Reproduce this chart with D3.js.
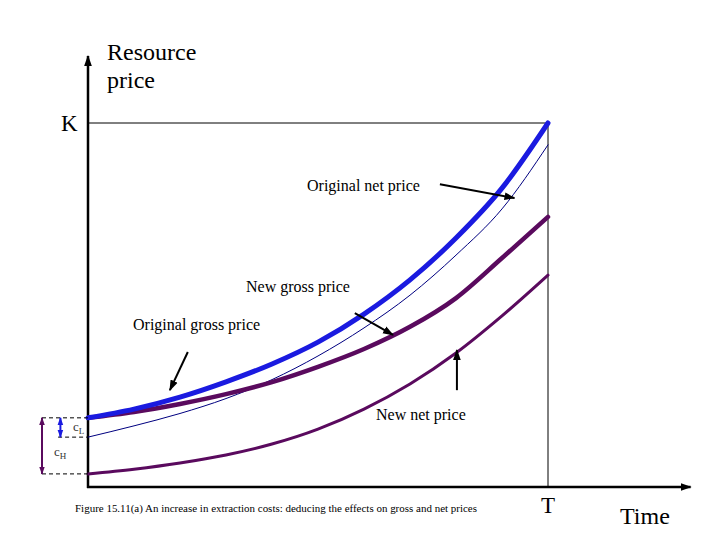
<!DOCTYPE html>
<html>
<head>
<meta charset="utf-8">
<script src="https://cdn.jsdelivr.net/npm/d3@7"></script>
<style>
  body { margin: 0; background: #fff; }
  text { font-family: "Liberation Serif", "Times New Roman", serif; }
</style>
</head>
<body>
<svg width="720" height="540"></svg>
<script>
(function () {

    // time runs from 0 to T (=1), price from 0 to K (=100)
    var times = [0, 0.1, 0.2, 0.3, 0.4, 0.5, 0.6, 0.7, 0.8, 0.9, 1];
    var originalGross = [19.0, 21.4, 24.7, 28.9, 33.8, 39.8, 47.5, 56.9, 68.4, 82.1, 100];
    var originalNet = [13.7, 16.8, 20.2, 24.3, 29.5, 36.0, 43.7, 52.7, 63.7, 76.4, 94.0];
    var newGross = [19.0, 20.6, 22.8, 25.5, 28.8, 33.0, 37.9, 44.0, 51.9, 62.9, 74.2];
    var newNet = [3.6, 4.9, 6.6, 8.8, 11.8, 15.9, 21.4, 28.3, 36.8, 47.0, 58.2];

    var K = 100, T = 1;

    var svg = d3.select("svg");

    var x = d3.scaleLinear().domain([0, T]).range([88, 548]);
    var y = d3.scaleLinear().domain([0, K]).range([487, 123]);

    var defs = svg.append("defs");
    function marker(id, color, size) {
        defs.append("marker")
            .attr("id", id)
            .attr("viewBox", "0 0 10 10")
            .attr("refX", 9).attr("refY", 5)
            .attr("markerWidth", size).attr("markerHeight", size)
            .attr("markerUnits", "userSpaceOnUse")
            .attr("orient", "auto-start-reverse")
            .append("path")
            .attr("d", "M0,1.5 L10,5 L0,8.5 z")
            .attr("fill", color);
    }
    marker("arr", "#000", 11);
    marker("arrBlue", "#1a1ae0", 8);
    marker("arrPurple", "#5a0a5e", 8);

    // K and T guide lines
    svg.append("line")
        .attr("x1", x(0)).attr("x2", x(T))
        .attr("y1", y(K)).attr("y2", y(K))
        .attr("stroke", "#000").attr("stroke-width", 1);
    svg.append("line")
        .attr("x1", x(T)).attr("x2", x(T))
        .attr("y1", y(K)).attr("y2", y(0))
        .attr("stroke", "#000").attr("stroke-width", 1);

    // axes
    svg.append("line")
        .attr("x1", x(0)).attr("x2", x(0))
        .attr("y1", y(0) + 1).attr("y2", y(118.4))
        .attr("stroke", "#000").attr("stroke-width", 2.5)
        .attr("marker-end", "url(#arr)");
    svg.append("line")
        .attr("x1", x(0) - 1).attr("x2", x(1.31))
        .attr("y1", y(0)).attr("y2", y(0))
        .attr("stroke", "#000").attr("stroke-width", 2.5)
        .attr("marker-end", "url(#arr)");

    var line = d3.line()
        .x(function (d, i) { return x(times[i]); })
        .y(function (d) { return y(d); })
        .curve(d3.curveMonotoneX);

    var series = [
        { values: originalNet, color: "#000080", width: 1 },
        { values: newNet, color: "#5a0a5e", width: 3 },
        { values: newGross, color: "#5a0a5e", width: 4.5 },
        { values: originalGross, color: "#1a1ae0", width: 5 }
    ];

    svg.selectAll(".curve")
        .data(series)
        .enter().append("path")
        .attr("class", "curve")
        .attr("d", function (d) { return line(d.values); })
        .attr("fill", "none")
        .attr("stroke", function (d) { return d.color; })
        .attr("stroke-width", function (d) { return d.width; })
        .attr("stroke-linecap", "round");

    // dashed cost markers at t = 0
    var dashes = [
        { v: originalGross[0], from: -0.1 },
        { v: originalNet[0], from: -0.065 },
        { v: newNet[0], from: -0.1 }
    ];
    svg.selectAll(".dash")
        .data(dashes)
        .enter().append("line")
        .attr("x1", function (d) { return x(d.from); })
        .attr("x2", x(0))
        .attr("y1", function (d) { return y(d.v); })
        .attr("y2", function (d) { return y(d.v); })
        .attr("stroke", "#000").attr("stroke-width", 1)
        .attr("stroke-dasharray", "4,3");

    // cL and cH double arrows
    svg.append("line")
        .attr("x1", x(-0.06)).attr("x2", x(-0.06))
        .attr("y1", y(originalGross[0])).attr("y2", y(originalNet[0]))
        .attr("stroke", "#1a1ae0").attr("stroke-width", 2)
        .attr("marker-start", "url(#arrBlue)")
        .attr("marker-end", "url(#arrBlue)");
    svg.append("line")
        .attr("x1", x(-0.1)).attr("x2", x(-0.1))
        .attr("y1", y(originalGross[0])).attr("y2", y(newNet[0]))
        .attr("stroke", "#5a0a5e").attr("stroke-width", 2)
        .attr("marker-start", "url(#arrPurple)")
        .attr("marker-end", "url(#arrPurple)");

    var cL = svg.append("text").attr("x", 73).attr("y", 431)
        .attr("font-size", 13).attr("fill", "#333");
    cL.append("tspan").text("c");
    cL.append("tspan").attr("font-size", 9).attr("dy", 3).text("L");
    var cH = svg.append("text").attr("x", 54).attr("y", 456)
        .attr("font-size", 13).attr("fill", "#333");
    cH.append("tspan").text("c");
    cH.append("tspan").attr("font-size", 9).attr("dy", 3).text("H");

    // annotation arrows (start/end in data units)
    var arrows = [
        { t0: 0.765, p0: 83.2, t1: 0.927, p1: 79.4 },
        { t0: 0.580, p0: 47.8, t1: 0.663, p1: 41.8 },
        { t0: 0.217, p0: 37.1, t1: 0.178, p1: 26.6 },
        { t0: 0.802, p0: 26.6, t1: 0.802, p1: 37.6 }
    ];
    svg.selectAll(".note")
        .data(arrows)
        .enter().append("line")
        .attr("class", "note")
        .attr("x1", function (d) { return x(d.t0); })
        .attr("y1", function (d) { return y(d.p0); })
        .attr("x2", function (d) { return x(d.t1); })
        .attr("y2", function (d) { return y(d.p1); })
        .attr("stroke", "#000").attr("stroke-width", 2)
        .attr("marker-end", "url(#arr)");

    var labels = [
        { text: "Original net price", x: 307, y: 191 },
        { text: "New gross price", x: 246, y: 292 },
        { text: "Original gross price", x: 133, y: 330 },
        { text: "New net price", x: 376, y: 420 }
    ];
    svg.selectAll(".label")
        .data(labels)
        .enter().append("text")
        .attr("class", "label")
        .attr("x", function (d) { return d.x; })
        .attr("y", function (d) { return d.y; })
        .attr("font-size", 16)
        .text(function (d) { return d.text; });

    svg.append("text").attr("x", 107).attr("y", 60).attr("font-size", 24).text("Resource");
    svg.append("text").attr("x", 107).attr("y", 88).attr("font-size", 24).text("price");
    svg.append("text").attr("x", 61).attr("y", 131).attr("font-size", 23).text("K");
    svg.append("text").attr("x", x(T)).attr("y", 513).attr("font-size", 23)
        .attr("text-anchor", "middle").text("T");
    svg.append("text").attr("x", 620).attr("y", 524).attr("font-size", 24).text("Time");
    svg.append("text").attr("x", 75).attr("y", 512).attr("font-size", 10.5)
        .attr("textLength", 402).attr("lengthAdjust", "spacingAndGlyphs")
        .text("Figure 15.11(a) An increase in extraction costs: deducing the effects on gross and net prices");

})();
</script>
</body>
</html>
